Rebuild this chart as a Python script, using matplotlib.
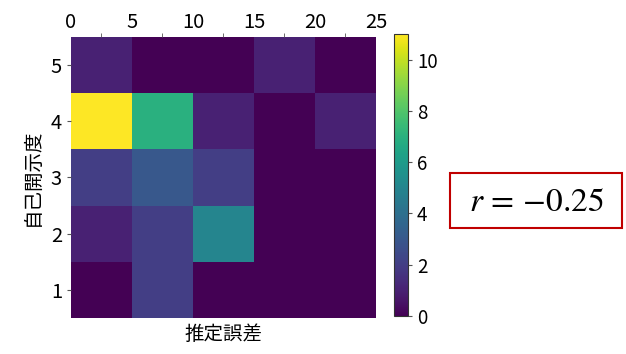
import numpy as np
import matplotlib.pyplot as plt
from matplotlib.patches import Rectangle

plt.rcParams['font.family'] = ['Noto Sans CJK JP', 'DejaVu Sans']
plt.rcParams['mathtext.fontset'] = 'stix'

# bins: estimation error (x) and self-disclosure level (y)
x_edges = [0, 5, 10, 15, 20, 25]
y_levels = [1, 2, 3, 4, 5]
# counts per cell, rows = self-disclosure 1..5, cols = error bins
counts = np.array([
    [0, 2, 0, 0, 0],
    [1, 2, 5, 0, 0],
    [2, 3, 2, 0, 0],
    [11, 7, 1, 0, 1],
    [1, 0, 0, 1, 0],
])
r_value = -0.25

fig = plt.figure(figsize=(6.26, 3.54), dpi=100)
ax = fig.add_axes([0.1134, 0.1017, 0.4872, 0.7938])
cax = fig.add_axes([0.6294, 0.1073, 0.0224, 0.7966])

y_edges = np.arange(0.5, 6.0, 1.0)
mesh = ax.pcolormesh(x_edges, y_edges, counts, cmap='viridis', vmin=0, vmax=11)
ax.set_xlim(0, 25)
ax.set_ylim(0.5, 5.5)

# x labels sit on the bin edges, small tick marks at bin centers
ax.xaxis.tick_top()
ax.set_xticks(x_edges)
ax.set_xticklabels([str(v) for v in x_edges], fontsize=14.5)
ax.tick_params(axis='x', which='major', length=0, pad=3)
ax.set_xticks([2.5, 7.5, 12.5, 17.5, 22.5], minor=True)
ax.tick_params(axis='x', which='minor', length=3, top=True, bottom=False, color='#555555')

ax.set_yticks(y_levels)
ax.set_yticklabels([str(v) for v in y_levels], fontsize=14.5)
ax.tick_params(axis='y', length=3, color='#555555')

for s in ax.spines.values():
    s.set_visible(False)

ax.set_xlabel('推定誤差', fontsize=14)
ax.xaxis.set_label_position('bottom')
ax.xaxis.labelpad = 4
ax.set_ylabel('自己開示度', fontsize=14, labelpad=6)

cb = fig.colorbar(mesh, cax=cax, ticks=[0, 2, 4, 6, 8, 10])
cb.ax.tick_params(labelsize=13.5, length=3, color='#555555')
cb.outline.set_edgecolor('#333333')
cb.outline.set_linewidth(0.8)

# correlation box
fig.patches.append(Rectangle((450 / 626, 1 - 228 / 354), 172 / 626, 55 / 354,
                             transform=fig.transFigure, fill=False,
                             edgecolor='#c00000', linewidth=1.5))
r_str = f'{r_value:.2f}'.replace('-', '{-}')
fig.text(536 / 626, 1 - 201 / 354, f'$r\\,=\\,{r_str}$',
         ha='center', va='center', fontsize=24)

fig.savefig('out.png', dpi=100)
